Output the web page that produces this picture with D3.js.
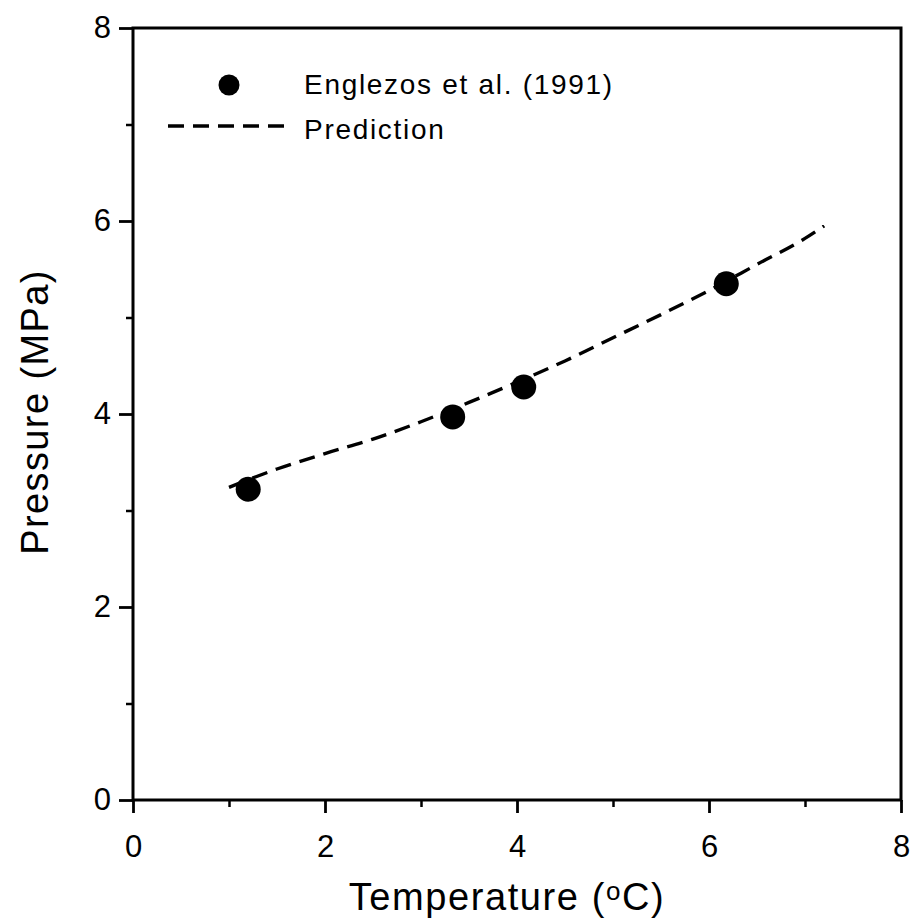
<!DOCTYPE html>
<html><head><meta charset="utf-8">
<script src="https://cdn.jsdelivr.net/npm/d3@7"></script>
<style>body{margin:0;background:#fff}svg{display:block}text{font-family:"Liberation Sans",Arial,sans-serif;fill:#000}</style>
</head><body><svg id="c" width="910" height="921"></svg>
<script>
const expT = [1.2, 3.33, 4.07, 6.18];
const expP = [3.22, 3.97, 4.28, 5.35];
const predT = [1.0, 1.5, 2.0, 2.5, 3.0, 3.5, 4.0, 4.5, 5.0, 5.5, 6.0, 6.5, 7.0, 7.2];
const predP = [3.24, 3.43, 3.59, 3.74, 3.92, 4.12, 4.33, 4.55, 4.79, 5.03, 5.28, 5.55, 5.82, 5.95];
const xTicks = [0, 2, 4, 6, 8];
const yTicks = [0, 2, 4, 6, 8];
const minorTicks = [1, 3, 5, 7];
const legendLabels = ["Englezos et al. (1991)", "Prediction"];

const svg = d3.select("#c");
const x = d3.scaleLinear().domain([0, 8]).range([133, 901]);
const y = d3.scaleLinear().domain([0, 8]).range([800, 28]);

// frame
svg.append("rect").attr("x", x(0)).attr("y", y(8)).attr("width", x(8) - x(0)).attr("height", y(0) - y(8))
  .attr("fill", "none").attr("stroke", "#000").attr("stroke-width", 3);

// x axis
const gx = svg.append("g").attr("transform", `translate(0,${y(0)})`);
gx.call(d3.axisBottom(x).tickValues(xTicks).tickSize(13).tickPadding(22).tickFormat(d3.format("d")));
gx.selectAll(".tick line").attr("stroke-width", 2.8);
gx.selectAll("text").attr("font-size", 31).style("font-family", '"Liberation Sans",Arial,sans-serif');
gx.select(".domain").remove();
const gxm = svg.append("g").attr("transform", `translate(0,${y(0)})`);
gxm.call(d3.axisBottom(x).tickValues(minorTicks).tickSize(7).tickFormat(""));
gxm.selectAll(".tick line").attr("stroke-width", 2.5);
gxm.select(".domain").remove();

// y axis
const gy = svg.append("g").attr("transform", `translate(${x(0)},0)`);
gy.call(d3.axisLeft(y).tickValues(yTicks).tickSize(14).tickPadding(8).tickFormat(d3.format("d")));
gy.selectAll(".tick line").attr("stroke-width", 2.8);
gy.selectAll("text").attr("font-size", 31).style("font-family", '"Liberation Sans",Arial,sans-serif');
gy.select(".domain").remove();
const gym = svg.append("g").attr("transform", `translate(${x(0)},0)`);
gym.call(d3.axisLeft(y).tickValues(minorTicks).tickSize(7).tickFormat(""));
gym.selectAll(".tick line").attr("stroke-width", 2.5);
gym.select(".domain").remove();

// axis titles
const xt = svg.append("text").attr("x", 507).attr("y", 910).attr("text-anchor", "middle")
  .attr("font-size", 38).attr("letter-spacing", 1.6);
xt.append("tspan").text("Temperature (");
xt.append("tspan").attr("font-size", 26).attr("dy", -10).text("o");
xt.append("tspan").attr("dy", 10).text("C)");

svg.append("text").attr("transform", "translate(48,412) rotate(-90)").attr("text-anchor", "middle")
  .attr("font-size", 38).attr("letter-spacing", 1.4).text("Pressure (MPa)");

// prediction line
const pred = predT.map((t, i) => [t, predP[i]]);
svg.append("path").datum(pred)
  .attr("d", d3.line().x(d => x(d[0])).y(d => y(d[1])).curve(d3.curveMonotoneX))
  .attr("fill", "none").attr("stroke", "#000").attr("stroke-width", 3.4)
  .attr("stroke-dasharray", "16,9");

// experimental points
svg.append("g").selectAll("circle").data(expT.map((t, i) => [t, expP[i]])).join("circle")
  .attr("cx", d => x(d[0])).attr("cy", d => y(d[1])).attr("r", 12.5).attr("fill", "#000");

// legend
svg.append("circle").attr("cx", 229).attr("cy", 85).attr("r", 10.5).attr("fill", "#000");
svg.append("line").attr("x1", 168).attr("x2", 287).attr("y1", 126).attr("y2", 126)
  .attr("stroke", "#000").attr("stroke-width", 3.4).attr("stroke-dasharray", "16,9");
svg.append("text").attr("x", 304).attr("y", 94).attr("font-size", 28).attr("letter-spacing", 1.7).text(legendLabels[0]);
svg.append("text").attr("x", 304).attr("y", 139).attr("font-size", 28).attr("letter-spacing", 1.7).text(legendLabels[1]);
</script></body></html>
